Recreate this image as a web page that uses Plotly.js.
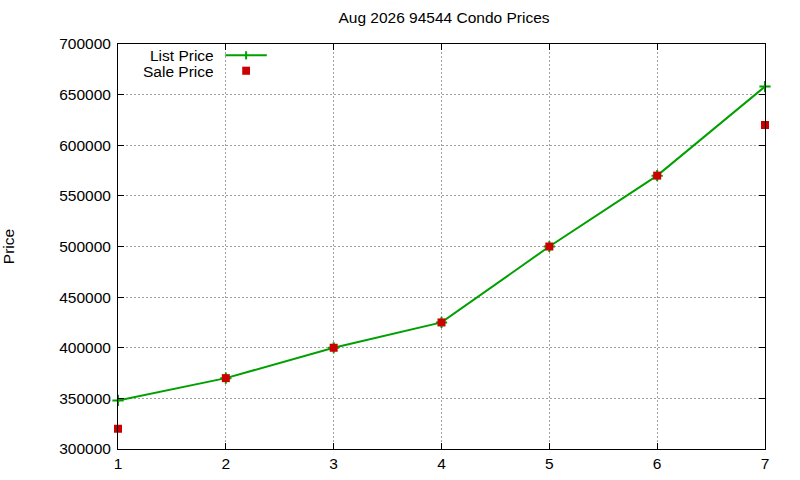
<!DOCTYPE html>
<html>
<head>
<meta charset="utf-8">
<script src="https://cdn.plot.ly/plotly-3.0.1.min.js"></script>
<style>
  html, body { margin: 0; padding: 0; background: #fff; }
  #chart { width: 800px; height: 480px; }
</style>
</head>
<body>
<div id="chart"></div>
<script>
// values
const months = [1, 2, 3, 4, 5, 6, 7];
const listPrice = [348000, 370000, 400000, 425000, 500000, 570000, 658000];
const salePrice = [320000, 370000, 400000, 425000, 500000, 570000, 620000];
const yTicks = [300000, 350000, 400000, 450000, 500000, 550000, 600000, 650000, 700000];

const GREEN = '#00a000';
const RED = '#cc0000';
const FONT = 'Liberation Sans, Arial, sans-serif';

const axisBase = {
    showline: true, linecolor: '#000', linewidth: 1, mirror: 'ticks',
    ticks: 'inside', ticklen: 6, tickcolor: '#000',
    showgrid: true, gridcolor: '#a0a0a0', griddash: '2px,2px', gridwidth: 1,
    zeroline: false,
    tickfont: { family: FONT, size: 15.5, color: '#000' }
};

const traces = [
    {
        x: months, y: listPrice, type: 'scatter', mode: 'lines+markers',
        line: { color: GREEN, width: 2 },
        marker: { symbol: 'cross-thin', size: 8, line: { color: GREEN, width: 2 } },
        name: 'List Price', cliponaxis: false
    },
    {
        x: months, y: salePrice, type: 'scatter', mode: 'markers',
        marker: { symbol: 'square', size: 8, color: RED },
        name: 'Sale Price', cliponaxis: false
    }
];

const keyFont = { family: FONT, size: 15.5, color: '#000' };

const layout = {
    width: 800, height: 480,
    paper_bgcolor: '#fff', plot_bgcolor: '#fff',
    margin: { l: 118, r: 35, t: 44, b: 31 },
    showlegend: false,
    font: { family: FONT, size: 15, color: '#000' },
    title: {
        text: 'Aug 2026 94544 Condo Prices',
        font: { family: FONT, size: 15.5, color: '#000' },
        x: 0.555, xanchor: 'center', y: 0.975, yanchor: 'top'
    },
    xaxis: {
        ...axisBase,
        range: [1, 7], tickvals: months, ticktext: months.map(String)
    },
    yaxis: {
        ...axisBase,
        ticklabelstandoff: 3,
        range: [300000, 700000], tickvals: yTicks, ticktext: yTicks.map(String),
        title: { text: 'Price', font: { family: FONT, size: 15.5, color: '#000' }, standoff: 42 }
    },
    // gnuplot-style key: text right-aligned, sample to its right
    annotations: [
        { xref: 'paper', yref: 'paper', x: 0.152, y: 0.972, xanchor: 'right', yanchor: 'middle',
          height: 16, valign: 'middle', text: 'List Price', showarrow: false, font: keyFont },
        { xref: 'paper', yref: 'paper', x: 0.152, y: 0.934, xanchor: 'right', yanchor: 'middle',
          height: 16, valign: 'middle', text: 'Sale Price', showarrow: false, font: keyFont }
    ],
    shapes: [
        { type: 'line', xref: 'paper', yref: 'paper', x0: 0.166, x1: 0.23, y0: 0.972, y1: 0.972,
          line: { color: GREEN, width: 2 } },
        { type: 'line', xref: 'paper', yref: 'paper', x0: 0.198, x1: 0.198, y0: 0.962, y1: 0.982,
          line: { color: GREEN, width: 2 } },
        { type: 'rect', xref: 'paper', yref: 'paper', x0: 0.192, x1: 0.204, y0: 0.924, y1: 0.944,
          fillcolor: RED, line: { width: 0 } }
    ]
};

Plotly.newPlot('chart', traces, layout, { staticPlot: true, displayModeBar: false });
</script>
</body>
</html>
